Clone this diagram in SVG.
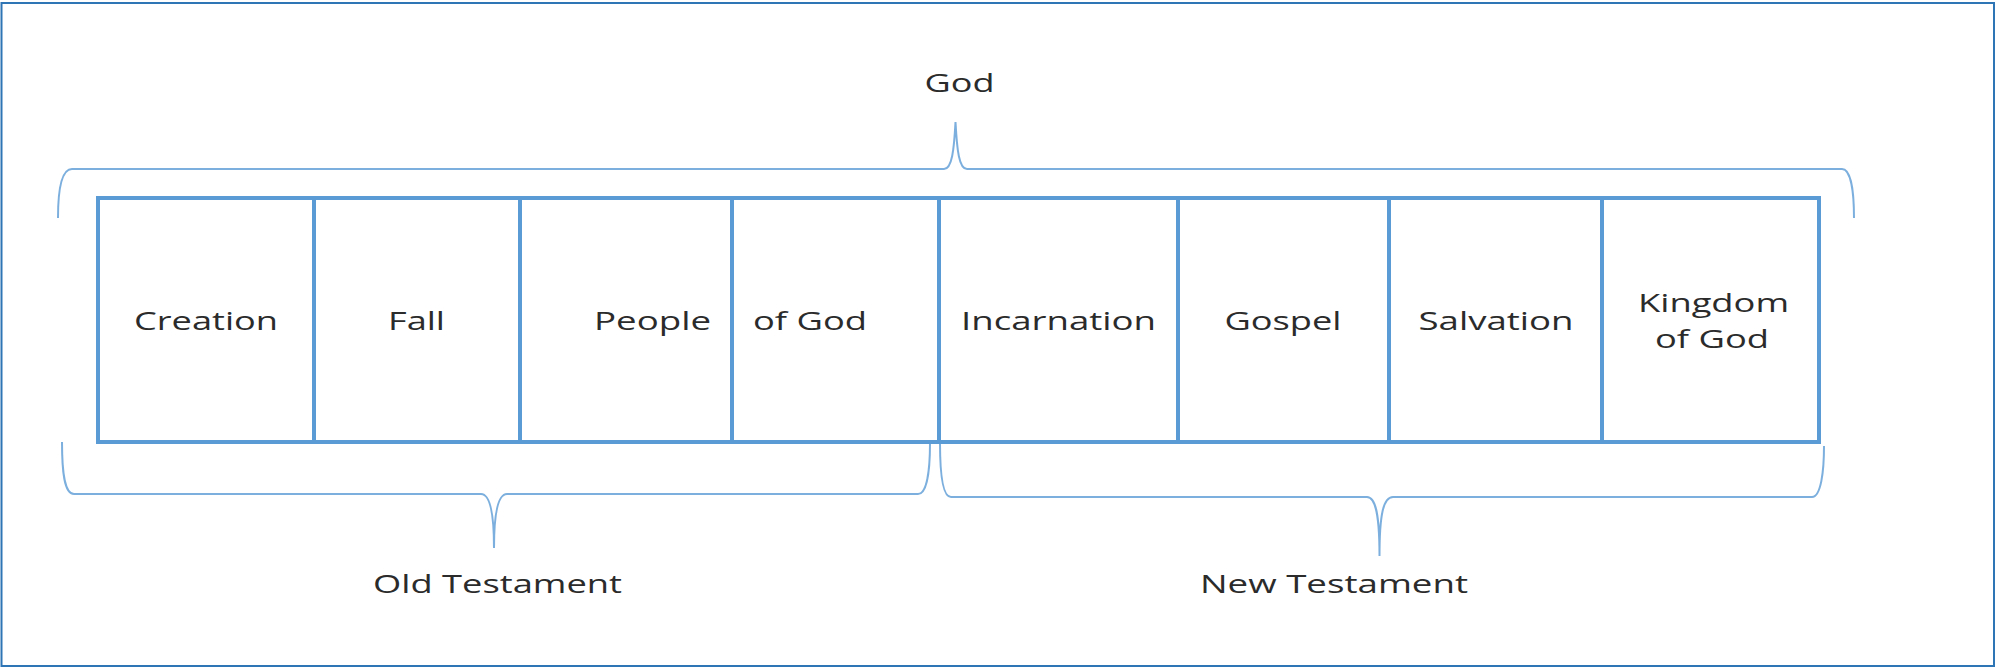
<svg xmlns="http://www.w3.org/2000/svg" width="1995" height="667" viewBox="0 0 1995 667">
<style>
.box{fill:#fff;stroke:#5B9BD5;stroke-width:4}
.brace{fill:none;stroke:#5B9BD5;stroke-width:2;stroke-opacity:0.8}
.t{font-family:"Open Sans","Noto Sans","DejaVu Sans",sans-serif;font-size:25px;fill:#2b2b2b;text-anchor:middle}
</style>
<rect x="1.5" y="3" width="1992.5" height="663" fill="#fff" stroke="#2E75B6" stroke-width="2"/>
<g id="label-god"><text class="t" x="959.5" y="92" textLength="70" lengthAdjust="spacingAndGlyphs">God</text></g>
<g id="node-creation"><rect class="box" x="98" y="198" width="216" height="244"/><text class="t" x="206" y="330" textLength="144" lengthAdjust="spacingAndGlyphs">Creation</text></g>
<g id="node-fall"><rect class="box" x="314" y="198" width="206" height="244"/><text class="t" x="416.5" y="330" textLength="57" lengthAdjust="spacingAndGlyphs">Fall</text></g>
<g id="node-people"><rect class="box" x="520" y="198" width="212" height="244"/><text class="t" x="652.5" y="330" textLength="117" lengthAdjust="spacingAndGlyphs">People</text></g>
<g id="node-ofgod"><rect class="box" x="732" y="198" width="207" height="244"/><text class="t" x="810" y="330" textLength="114" lengthAdjust="spacingAndGlyphs">of God</text></g>
<g id="node-incarnation"><rect class="box" x="939" y="198" width="239" height="244"/><text class="t" x="1058.5" y="330" textLength="195" lengthAdjust="spacingAndGlyphs">Incarnation</text></g>
<g id="node-gospel"><rect class="box" x="1178" y="198" width="211" height="244"/><text class="t" x="1283" y="330" textLength="117" lengthAdjust="spacingAndGlyphs">Gospel</text></g>
<g id="node-salvation"><rect class="box" x="1389" y="198" width="213" height="244"/><text class="t" x="1496" y="330" textLength="155" lengthAdjust="spacingAndGlyphs">Salvation</text></g>
<g id="node-kingdom"><rect class="box" x="1602" y="198" width="217" height="244"/><text class="t" x="1713.5" y="312" textLength="151" lengthAdjust="spacingAndGlyphs">Kingdom</text><text class="t" x="1712" y="348" textLength="114" lengthAdjust="spacingAndGlyphs">of God</text></g>
<g id="connectors">
<path class="brace" d="M58,218 C58,192 61,169 72,169 L944,169 C952,169 954,150 955.5,122 C957,150 959,169 967,169 L1842,169 C1851,169 1854,192 1854,218"/>
<path class="brace" d="M62,442 C62,470 64,494 74,494 L481,494 C490,494 494,512 494,548 C494,512 498,494 507,494 L918,494 C927,494 930,470 930,443"/>
<path class="brace" d="M940,443 C940,471 942,497 951,497 L1367,497 C1376,497 1379.5,516 1379.5,556 C1379.5,516 1383,497 1393,497 L1812,497 C1821,497 1824,471 1824,446"/>
</g>
<g id="label-old"><text class="t" x="497.5" y="593" textLength="249" lengthAdjust="spacingAndGlyphs">Old Testament</text></g>
<g id="label-new"><text class="t" x="1334" y="593" textLength="268" lengthAdjust="spacingAndGlyphs">New Testament</text></g>
</svg>
